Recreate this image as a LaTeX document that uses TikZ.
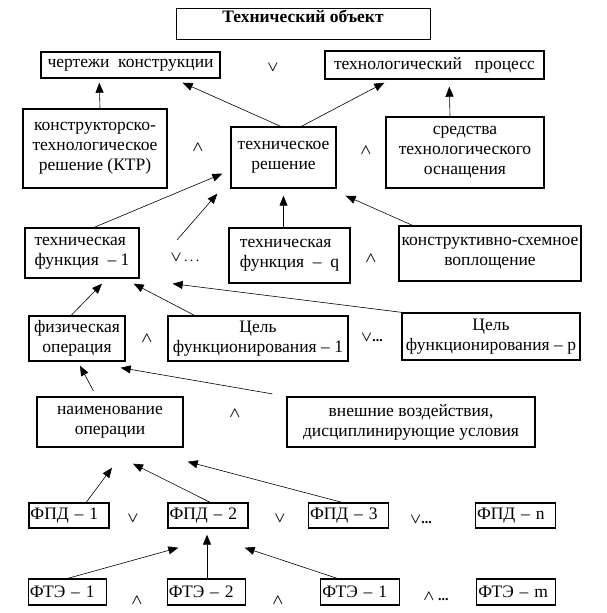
\documentclass[tikz,border=0pt]{standalone}
\usepackage{fontspec}
\setmainfont{Liberation Serif}
\usetikzlibrary{arrows.meta,calc}

\tikzset{
    blk/.style={draw, line width=1.4pt, align=center, inner sep=2pt, font=\fontsize{17.5}{20}\selectfont},
    pd/.style={blk, align=left, minimum height=25pt, inner xsep=1.5pt},
    op/.style={font=\fontsize{14}{16}\selectfont\boldmath, inner sep=0pt},
    arr/.style={-{Triangle[width=8pt,length=10pt]}, line width=0.6pt},
}

\begin{document}
\begin{tikzpicture}[x=1pt,y=-1pt]
        \useasboundingbox (0,0) rectangle (607,613);
        % top
        \node[blk, line width=0.8pt, font=\fontsize{17.5}{20}\selectfont\bfseries, minimum width=254pt, text height=12pt, text depth=14pt, inner ysep=2.5pt] (obj) at (303,23.5) {Технический объект};
        \node[blk, minimum width=179pt, minimum height=26pt] (cherteji) at (130.5,65) {чертежи~ конструкции};
        \node[blk, minimum width=219pt, minimum height=28pt] (techproc) at (434.5,65) {технологический~~ процесс};
        \node[blk, minimum width=144pt, minimum height=79pt] (ktr) at (95,148.5) {конструкторско-\\технологическое\\решение (КТР)};
        \node[blk, minimum width=105pt, minimum height=61pt] (techres) at (283.5,157.5) {техническое\\решение};
        \node[blk, minimum width=158pt, minimum height=71pt] (sredstva) at (465,152.5) {средства\\технологического\\оснащения};
        % functions
        \node[blk, align=left, minimum width=114pt, minimum height=50pt] (tf1) at (82,253) {техническая\\функция~ – 1};
        \node[blk, align=left, minimum width=121pt, minimum height=55pt] (tfq) at (289.5,255.5) {техническая\\функция~ –~ q};
        \node[blk, minimum width=182pt, minimum height=55pt] (kso) at (490,253.5) {конструктивно-схемное\\воплощение};
        \node[blk, minimum width=96pt, minimum height=45pt] (fizop) at (77,338.5) {физическая\\операция};
        \node[blk, minimum width=180pt, minimum height=45pt] (cel1) at (258,338.5) {Цель\\функционирования – 1};
        \node[blk, minimum width=178pt, minimum height=47pt] (celp) at (491,336.5) {Цель\\функционирования – p};
        \node[blk, minimum width=146pt, minimum height=50pt] (naim) at (110,422) {наименование\\операции};
        \node[blk, minimum width=248pt, minimum height=50pt] (vnesh) at (411,422) {внешние воздействия,\\дисциплинирующие условия};
        % FPD and FTE
        \node[pd, text width=77pt] (fpd1) at (69,515.5) {ФПД – 1};
        \node[pd, text width=77pt] (fpd2) at (208,515.5) {ФПД – 2};
        \node[pd, text width=77pt] (fpd3) at (348.5,515.5) {ФПД – 3};
        \node[pd, text width=77pt] (fpdn) at (515.5,515.5) {ФПД – n};
        \node[pd, text width=75.5pt, minimum height=26pt] (fte1) at (67.5,592) {ФТЭ – 1};
        \node[pd, text width=75.5pt, minimum height=26pt] (fte2) at (206.5,592) {ФТЭ – 2};
        \node[pd, text width=75.5pt, minimum height=26pt] (fte1b) at (360,592) {ФТЭ – 1};
        \node[pd, text width=75.5pt, minimum height=26pt] (ftem) at (516,592) {ФТЭ – m};
        % operators
        \node[op] (or1) at (273,67) {$\vee$};
        \node[op] (and1) at (198,147) {$\wedge$};
        \node[op] (and2) at (366,150) {$\wedge$};
        \node[op] (or2) at (185,258) {$\vee$\,.\,.\,.};
        \node[op] (and3) at (371,258) {$\wedge$};
        \node[op] (and4) at (147,338) {$\wedge$};
        \node[op] (or3) at (372,338) {$\vee$\textbf{...}};
        \node[op] (and5) at (235,413) {$\wedge$};
        \node[op] (or4) at (133,518) {$\vee$};
        \node[op] (or5) at (280,518) {$\vee$};
        \node[op] (or6) at (421,520) {$\vee$\textbf{...}};
        \node[op] (and6) at (137,600) {$\wedge$};
        \node[op] (and7) at (278,600) {$\wedge$};
        \node[op] (and8) at (436,597) {$\wedge$ \textbf{...}};
        \coordinate (tfdots) at (177,240);
        % arrows
        \draw[arr] ($(ktr.north)+(5,0)$) -- ($(cherteji.south west)+(59,4)$);
        \draw[arr] ($(techres.north)+(-3,0)$) -- ($(cherteji.south east)+(-38,4)$);
        \draw[arr] ($(techres.north)+(18,0)$) -- ($(techproc.south west)+(60,3)$);
        \draw[arr] ($(sredstva.north)+(-15,0)$) -- ($(techproc.south west)+(125,7)$);
        \draw[arr] ($(tf1.north west)+(70,0)$) -- ($(techres.south west)+(-8,-15)$);
        \draw[arr] (tfdots) -- ($(techres.south west)+(-13,5)$);
        \draw[arr] ($(tfq.north)+(-6,0)$) -- ($(techres.south)+(0,7)$);
        \draw[arr] ($(kso.north west)+(14,0)$) -- ($(techres.south east)+(9,7)$);
        \draw[arr] ($(fizop.north west)+(43,0)$) -- ($(tf1.south)+(20,5)$);
        \draw[arr] ($(cel1.north west)+(27,0)$) -- ($(tf1.south east)+(-6,5)$);
        \draw[arr] (celp.north west) -- ($(tf1.south east)+(33,5)$);
        \draw[arr, shorten <=6pt] ($(naim.north west)+(60,0)$) -- ($(fizop.south)+(3,4)$);
        \draw[arr, shorten <=14pt] (vnesh.north west) -- ($(fizop.south east)+(-5,6)$);
        \draw[arr] ($(fpd1.north west)+(58,0)$) -- ($(naim.south)+(2,20)$);
        \draw[arr] ($(fpd2.north)+(2,0)$) -- ($(naim.south)+(23,16)$);
        \draw[arr] ($(fpd3.north west)+(34,0)$) -- ($(naim.south east)+(4,14)$);
        \draw[arr] ($(fte1.north)+(0.5,0)$) -- ($(fpd2.south west)+(11,19)$);
        \draw[arr] ($(fte2.north)+(0.5,0)$) -- ($(fpd2.south)+(-1,6)$);
        \draw[arr] ($(fte1b.north west)+(17,0)$) -- ($(fpd2.south east)+(-4,19)$);
\end{tikzpicture}
\end{document}
